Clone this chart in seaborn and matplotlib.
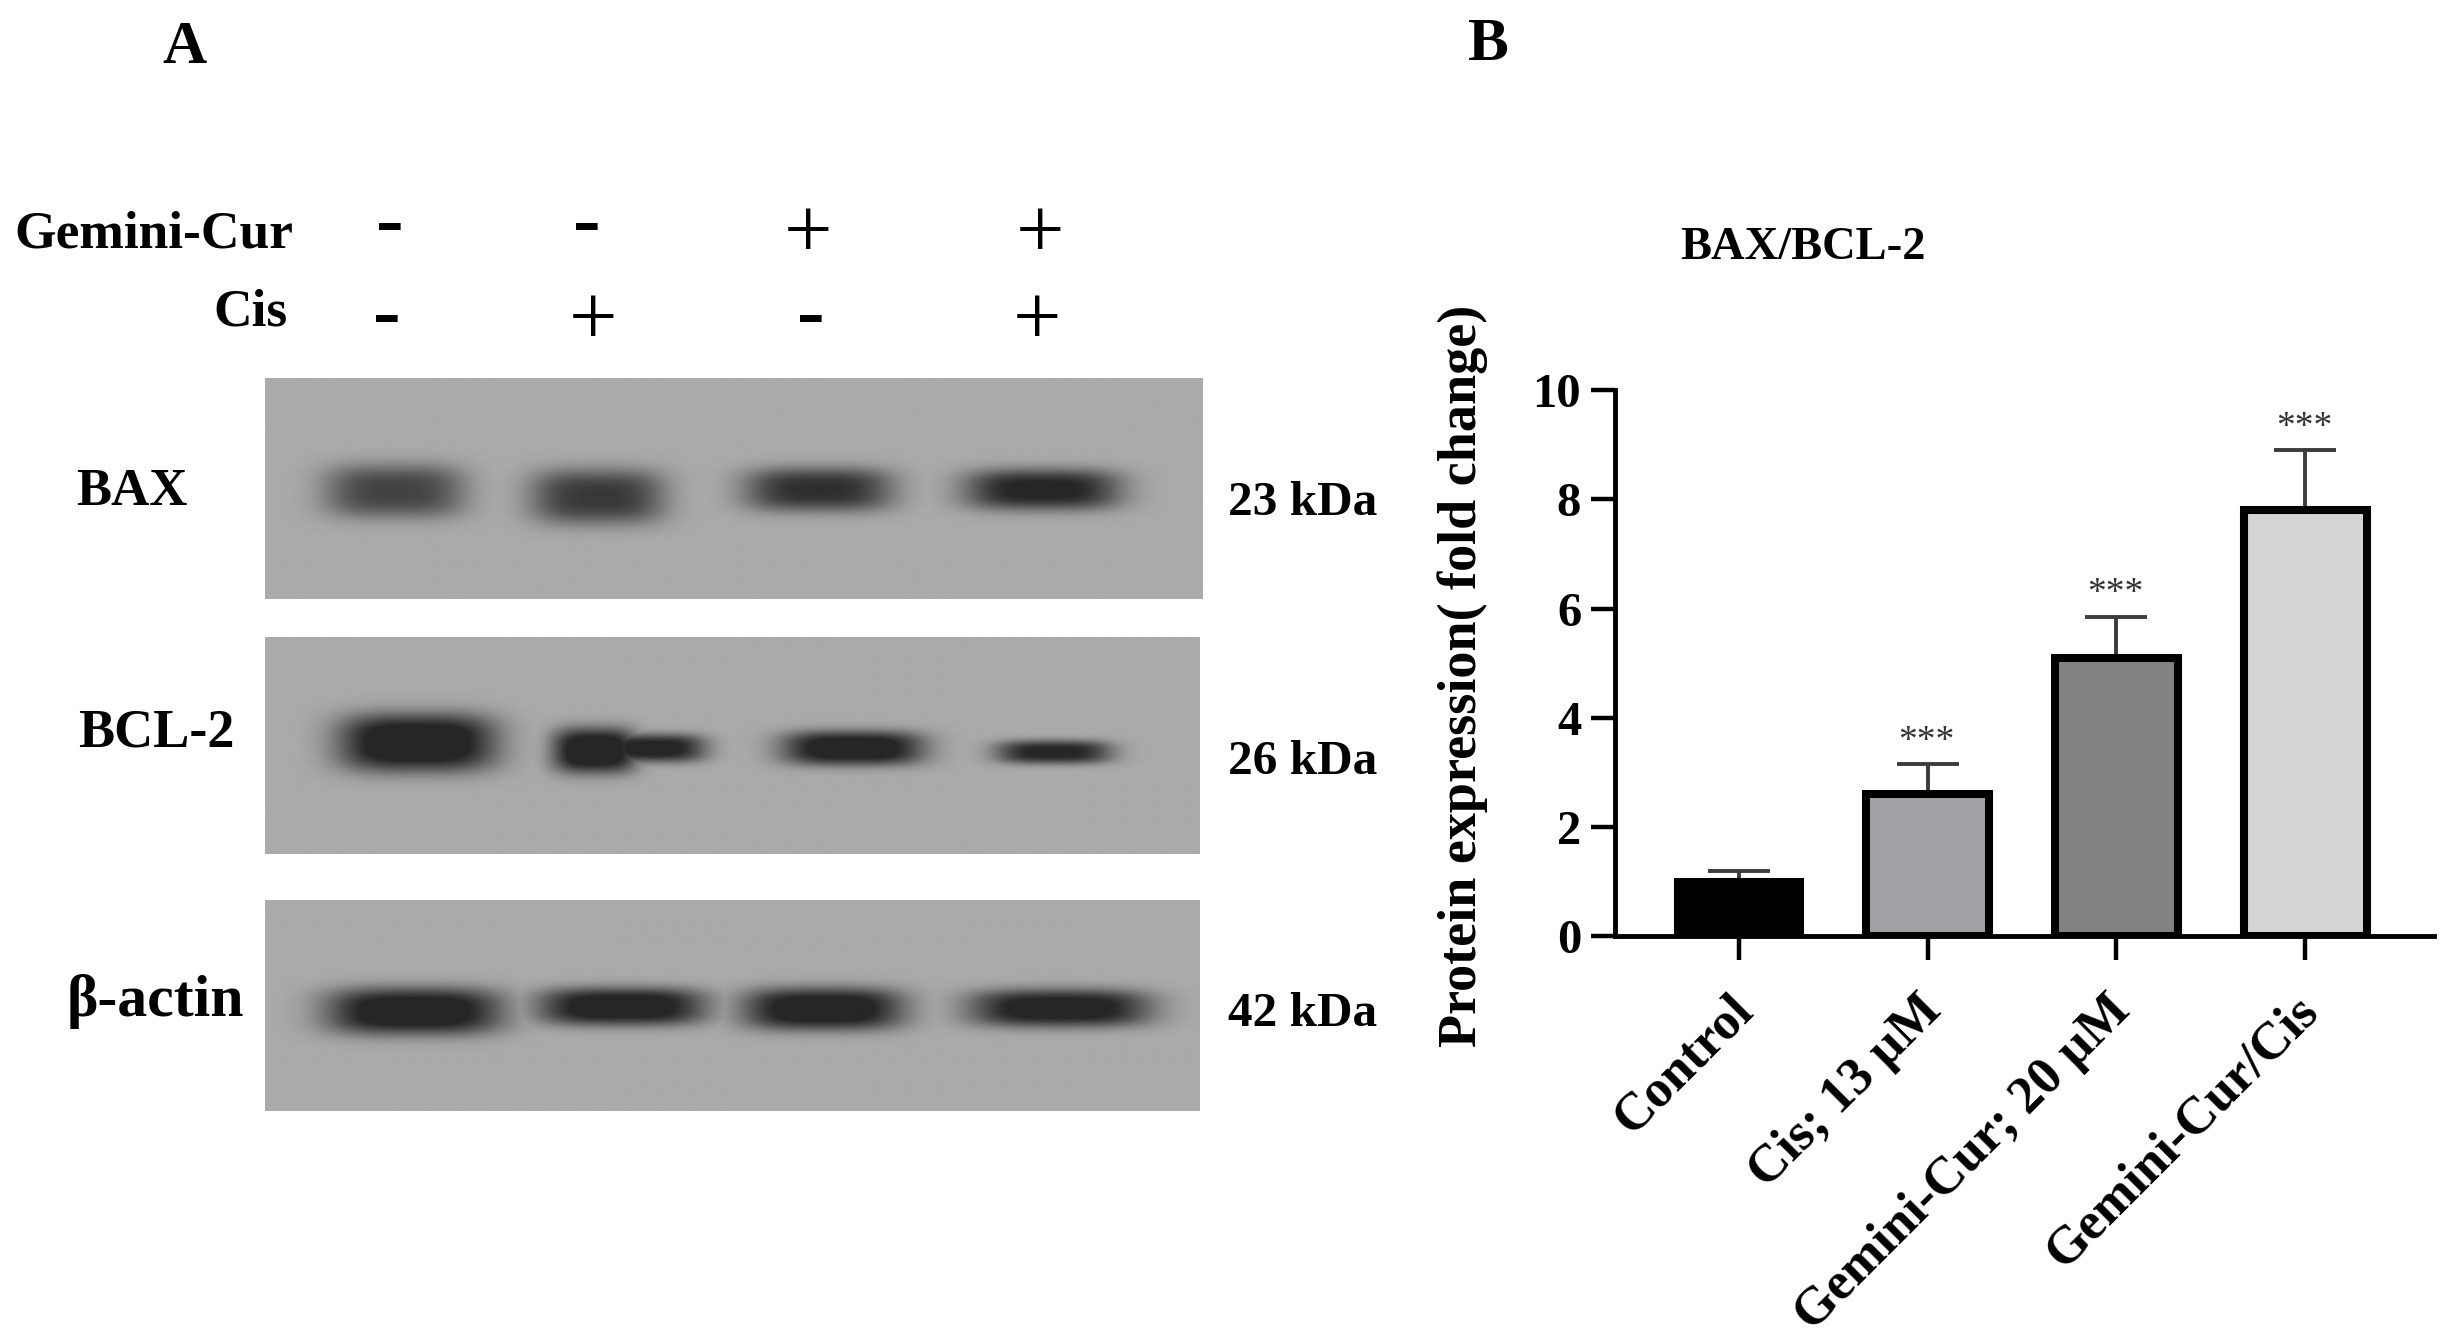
import numpy as np
import pandas as pd
import matplotlib
matplotlib.use('Agg')
import matplotlib.pyplot as plt
from matplotlib.transforms import ScaledTranslation
import seaborn as sns

# bar chart data
groups = ['Control', 'Cis; 13 µM', 'Gemini-Cur; 20 µM', 'Gemini-Cur/Cis']
fold_change = [1.0, 2.6, 5.1, 7.8]
err_upper = [0.2, 0.55, 0.75, 1.1]
significance = ['', '***', '***', '***']
bar_colors = ['#000000', '#a0a1a5', '#828282', '#d4d4d4']

# treatment table above the blot
gemini_signs = ['-', '-', '+', '+']
cis_signs = ['-', '+', '-', '+']

# blot labels
proteins = ['BAX', 'BCL-2', 'β-actin']
sizes = ['23 kDa', '26 kDa', '42 kDa']

# band blobs per blot: x from, x to, y from, y to, darkness 0-1
bax_bands = [(208, 298, 298, 332, 0.78), (340, 426, 301, 336, 0.86),
             (477, 572, 300, 328, 0.94), (618, 718, 301, 327, 1.05)]
bcl_bands = [(217, 318, 457, 494, 1.25), (354, 408, 466, 495, 1.25),
             (385, 452, 470, 488, 1.1), (501, 592, 468, 490, 1.2),
             (638, 712, 474, 489, 1.05)]
actin_bands = [(209, 322, 633, 663, 1.2), (345, 452, 633, 657, 1.2),
               (476, 579, 633, 660, 1.2), (621, 737, 634, 658, 1.15)]


def blot(ax, left, right, top, bottom, bands):
    # grey membrane with soft edged bands, coordinates are image pixels
    xs, ys = np.meshgrid(np.arange(left, right, 0.5), np.arange(top, bottom, 0.5))
    dark = np.zeros_like(xs)
    for x0, x1, y0, y1, d in bands:
        cx, cy = (x0 + x1) / 2, (y0 + y1) / 2
        rx, ry = (x1 - x0) / 2, (y1 - y0) / 2
        blob = np.exp(-np.abs((xs - cx) / rx) ** 3.5) * np.exp(-np.abs((ys - cy) / ry) ** 3)
        dark = np.maximum(dark, d * blob)
    img = 170 - (170 - 38) * np.clip(dark, 0, 1)
    ax.imshow(img, cmap='gray', vmin=0, vmax=255, extent=(left, right, bottom, top),
              aspect='auto', interpolation='bilinear', zorder=1)


sns.set_theme(style='white')
plt.rcParams['font.family'] = ['Liberation Serif', 'DejaVu Serif']
plt.rcParams['font.weight'] = 'bold'
plt.rcParams['text.color'] = 'black'
plt.rcParams['axes.labelcolor'] = 'black'
plt.rcParams['xtick.color'] = 'black'
plt.rcParams['ytick.color'] = 'black'
plt.rcParams['axes.labelweight'] = 'bold'

fig = plt.figure(figsize=(24.46, 13.39), dpi=100)

# panel A lives in a full figure axes, units are those of the 1568 wide picture
page = fig.add_axes([0, 0, 1, 1])
page.axis('off')

blot(page, 170, 771, 243, 384, bax_bands)
blot(page, 170, 769, 408, 547, bcl_bands)
blot(page, 170, 769, 577, 712, actin_bands)
page.set_xlim(0, 1568)
page.set_ylim(858, 0)

page.text(118, 31, 'A', fontsize=44, ha='center', va='center')
page.text(954, 29, 'B', fontsize=44, ha='center', va='center')
page.text(188, 150, 'Gemini-Cur', fontsize=38.5, ha='right', va='center')
page.text(184, 200, 'Cis', fontsize=38.5, ha='right', va='center')

for x, s in zip([250, 376, 518, 667], gemini_signs):
    if s == '+':
        page.text(x, 152, s, fontsize=62, fontweight='normal', ha='center', va='center')
    else:
        page.text(x, 145, s, fontsize=60, ha='center', va='center')
for x, s in zip([248, 380, 520, 665], cis_signs):
    if s == '+':
        page.text(x, 208, s, fontsize=62, fontweight='normal', ha='center', va='center')
    else:
        page.text(x, 204, s, fontsize=60, ha='center', va='center')

page.text(49, 315, proteins[0], fontsize=38, va='center')
page.text(50, 470, proteins[1], fontsize=39, va='center')
page.text(43, 642, proteins[2], fontsize=43, va='center')
for y, s in zip([322, 488, 650], sizes):
    page.text(883, y, s, fontsize=35.5, ha='right', va='center')

page.text(1156, 159, 'BAX/BCL-2', fontsize=33.5, ha='center', va='center')

# panel B
df = pd.DataFrame({'group': groups, 'fold': fold_change})
ax = fig.add_axes([1035 / 1568, 1 - 600 / 858, (1560 - 1035) / 1568, 350 / 858])
ax.patch.set_alpha(0)
sns.barplot(data=df, x='group', y='fold', hue='group', palette=bar_colors, legend=False,
            width=0.65, edgecolor='black', linewidth=5.8, saturation=1, ax=ax, zorder=3)
ax.errorbar(range(len(groups)), fold_change, yerr=[[0] * 4, err_upper], fmt='none',
            ecolor='#3c3c3c', elinewidth=2.8, capsize=22, capthick=2.8, zorder=2)
for i, (v, e, s) in enumerate(zip(fold_change, err_upper, significance)):
    if s:
        ax.annotate(s, (i, v + e), xytext=(-1, 4), textcoords='offset points', ha='center',
                    va='bottom', fontsize=27, fontweight='normal', color='#333333')

ax.set_xlim(-0.66, 3.68)
ax.set_ylim(0, 10)
ax.set_yticks([0, 2, 4, 6, 8, 10])
ax.set_xlabel('')
ax.set_ylabel('Protein expression( fold change)', fontsize=39)
ax.yaxis.set_label_coords(-0.155, 0.477)
ax.tick_params(axis='y', length=17, width=3.2, labelsize=35, pad=7, left=True)
ax.tick_params(axis='x', length=17, width=3.2, labelsize=38, pad=19, bottom=True)
plt.setp(ax.get_xticklabels(), rotation=45, ha='right', rotation_mode='anchor')
shift = ScaledTranslation(-8 / 72, 0, fig.dpi_scale_trans)
for lab in ax.get_xticklabels():
    lab.set_transform(lab.get_transform() + shift)
sns.despine(ax=ax)
ax.spines['left'].set_linewidth(3.5)
ax.spines['bottom'].set_linewidth(3.5)
ax.spines['left'].set_color('black')
ax.spines['bottom'].set_color('black')

fig.savefig('out.png', dpi=100, facecolor='white')
